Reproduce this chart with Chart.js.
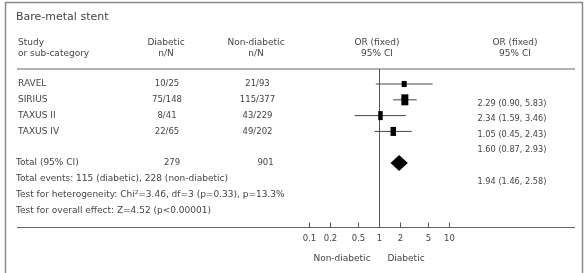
<!DOCTYPE html>
<html>
<head>
<meta charset="utf-8">
<script src="https://cdn.jsdelivr.net/npm/chart.js@4.4.1/dist/chart.umd.min.js"></script>
<style>
  html, body { margin: 0; padding: 0; background: #fff; }
  #wrap { width: 586px; height: 273px; position: relative; }
</style>
</head>
<body>
<div id="wrap"><canvas id="forest" width="586" height="273"></canvas></div>
<script>
const studies = ['RAVEL', 'SIRIUS', 'TAXUS II', 'TAXUS IV']
const diabeticNN = ['10/25', '75/148', '8/41', '22/65']
const nonDiabeticNN = ['21/93', '115/377', '43/229', '49/202']
const oddsRatio = [2.29, 2.34, 1.05, 1.60]
const ciLow = [0.90, 1.59, 0.45, 0.87]
const ciHigh = [5.83, 3.46, 2.43, 2.93]
const totalN = [279, 901]
const totalOR = [1.94, 1.46, 2.58]
const xTicks = [0.1, 0.2, 0.5, 1, 2, 5, 10]

const FONT = '"DejaVu Sans", sans-serif'
const INK = '#444'

// box sizes (w, h) per study, px
const boxW = [5, 7, 4.5, 5.5]
const boxH = [6, 11, 9, 9]

const fmt = (o, l, h) => `${o.toFixed(2)} (${l.toFixed(2)}, ${h.toFixed(2)})`

const tablePlugin = {
    id: 'forestTable',
    afterDraw(chart) {
        const ctx = chart.ctx
        const x = chart.scales.x
        const y = chart.scales.y
        const area = chart.chartArea

        ctx.save()
        // frame
        ctx.strokeStyle = '#8a8a8a'
        ctx.lineWidth = 1.5
        ctx.strokeRect(5.5, 2.5, 577, 290)

        const text = (s, px, py, align, size) => {
            ctx.font = `${size || 9}px ${FONT}`
            ctx.textAlign = align || 'left'
            ctx.textBaseline = 'middle'
            ctx.fillStyle = INK
            ctx.fillText(s, px, py)
        }

        text('Bare-metal stent', 16, 17, 'left', 11)

        text('Study', 18, 43)
        text('or sub-category', 18, 54)
        text('Diabetic', 166, 43, 'center')
        text('n/N', 166, 54, 'center')
        text('Non-diabetic', 256, 43, 'center')
        text('n/N', 256, 54, 'center')
        text('OR (fixed)', 377, 43, 'center')
        text('95% CI', 377, 54, 'center')
        text('OR (fixed)', 515, 43, 'center')
        text('95% CI', 515, 54, 'center')

        // rules
        ctx.strokeStyle = '#666'
        ctx.lineWidth = 1.2
        ctx.beginPath()
        ctx.moveTo(17, 69); ctx.lineTo(575, 69)
        ctx.moveTo(17, 227.5); ctx.lineTo(575, 227.5)
        ctx.stroke()

        // line of no effect
        const x1 = Math.round(x.getPixelForValue(1)) + 0.5
        ctx.strokeStyle = '#555'
        ctx.lineWidth = 1
        ctx.beginPath()
        ctx.moveTo(x1, area.top); ctx.lineTo(x1, area.bottom)
        ctx.stroke()

        // ticks + labels
        ctx.strokeStyle = '#555'
        xTicks.forEach(t => {
            const px = Math.round(x.getPixelForValue(t)) + 0.5
            ctx.beginPath()
            ctx.moveTo(px, 222.5); ctx.lineTo(px, 227.5)
            ctx.stroke()
            text(String(t), px, 239, 'center', 8.5)
        })
        text('Non-diabetic', 342, 259, 'center')
        text('Diabetic', 406, 259, 'center')

        // study rows
        const rightY = [104.3, 119.3, 135, 150]
        studies.forEach((s, i) => {
            const py = y.getPixelForValue(i)
            text(s, 18, py)
            text(diabeticNN[i], 167, py, 'center', 8.5)
            text(nonDiabeticNN[i], 257.5, py, 'center', 8.5)
            text(fmt(oddsRatio[i], ciLow[i], ciHigh[i]), 512, rightY[i], 'center', 8.2)

            const px = x.getPixelForValue(oddsRatio[i])
            ctx.fillStyle = '#000'
            ctx.fillRect(px - boxW[i] / 2, py - boxH[i] / 2, boxW[i], boxH[i])
        })

        // total
        text('Total (95% CI)', 16, 162.7)
        text(String(totalN[0]), 172, 162.7, 'center', 8.5)
        text(String(totalN[1]), 265.5, 162.7, 'center', 8.5)
        text(fmt(totalOR[0], totalOR[1], totalOR[2]), 512, 182.3, 'center', 8.2)
        text('Total events: 115 (diabetic), 228 (non-diabetic)', 16, 178.3)
        text('Test for heterogeneity: Chi\u00b2=3.46, df=3 (p=0.33), p=13.3%', 16, 194.3)
        text('Test for overall effect: Z=4.52 (p<0.00001)', 16, 210.7)

        const dy = y.getPixelForValue(5)
        const dl = x.getPixelForValue(totalOR[1])
        const dc = x.getPixelForValue(totalOR[0])
        const dr = x.getPixelForValue(totalOR[2])
        ctx.fillStyle = '#000'
        ctx.beginPath()
        ctx.moveTo(dl, dy)
        ctx.lineTo(dc, dy - 8)
        ctx.lineTo(dr, dy)
        ctx.lineTo(dc, dy + 8)
        ctx.closePath()
        ctx.fill()

        ctx.restore()
    }
}

const ciSets = studies.map((s, i) => ({
    label: s,
    type: 'line',
    data: [{ x: ciLow[i], y: i }, { x: ciHigh[i], y: i }],
    borderColor: '#444',
    borderWidth: 1,
    pointRadius: 0
}))

new Chart(document.getElementById('forest'), {
    type: 'scatter',
    data: { datasets: ciSets },
    options: {
        responsive: false,
        animation: false,
        events: [],
        layout: { padding: { left: 309, right: 137, top: 69, bottom: 45.5 } },
        plugins: { legend: { display: false }, tooltip: { enabled: false } },
        scales: {
            x: { type: 'logarithmic', min: 0.1, max: 10, display: false },
            y: { type: 'linear', min: -0.95, max: 9.08, reverse: true, display: false }
        }
    },
    plugins: [tablePlugin]
})
</script>
</body>
</html>
